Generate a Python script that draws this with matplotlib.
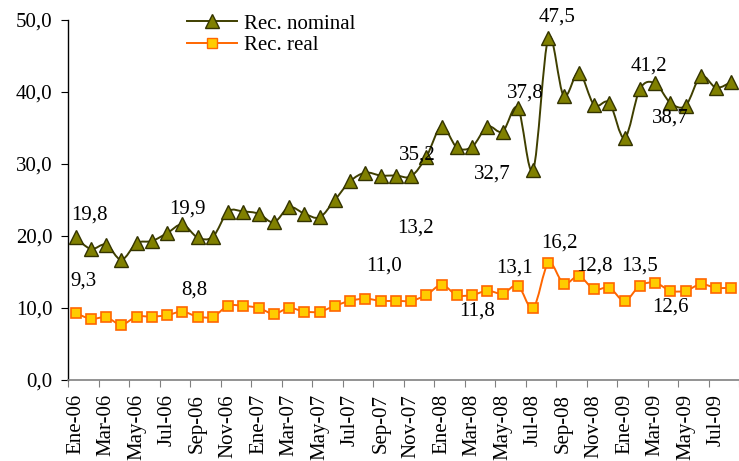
import numpy as np
import matplotlib.pyplot as plt
from matplotlib.path import Path
from matplotlib.patches import PathPatch
from matplotlib.lines import Line2D

plt.rcParams['font.family'] = ['Liberation Serif', 'DejaVu Serif']

# monthly categories, Ene-06 .. Ago-09
meses = ["Ene", "Feb", "Mar", "Abr", "May", "Jun", "Jul", "Ago", "Sep", "Oct", "Nov", "Dic"]
categorias = [f"{m}-{a:02d}" for a in (6, 7, 8, 9) for m in meses][:44]

rec_nominal = [19.8, 18.2, 18.8, 16.7, 19.0, 19.3, 20.4, 21.6, 19.8, 19.9,
               23.4, 23.4, 23.1, 21.9, 24.0, 23.1, 22.6, 25.0, 27.6, 28.8,
               28.4, 28.4, 28.3, 31.0, 35.2, 32.3, 32.4, 35.2, 34.5, 37.8,
               29.2, 47.5, 39.5, 42.7, 38.2, 38.5, 33.6, 40.4, 41.2, 38.5,
               38.1, 42.2, 40.6, 41.4]
rec_real = [9.3, 8.5, 8.7, 7.7, 8.8, 8.8, 9.0, 9.5, 8.8, 8.8,
            10.3, 10.3, 10.0, 9.2, 10.0, 9.5, 9.5, 10.3, 11.0, 11.3,
            11.0, 11.0, 11.0, 11.8, 13.2, 11.8, 11.8, 12.4, 12.0, 13.1,
            10.0, 16.2, 13.4, 14.4, 12.6, 12.8, 11.0, 13.1, 13.5, 12.4,
            12.4, 13.3, 12.8, 12.8]

# data labels as they sit in the original (text, x position, y position)
etiquetas = [("19,8", 0.9, 22.9), ("19,9", 7.3, 23.8), ("9,3", 0.5, 13.8),
             ("8,8", 7.8, 12.5), ("11,0", 20.2, 15.8), ("13,2", 22.3, 21.1),
             ("11,8", 26.3, 9.6), ("13,1", 28.75, 15.6), ("16,2", 31.7, 19.0),
             ("12,8", 34.0, 15.8), ("13,5", 37.0, 15.8), ("12,6", 39.0, 10.1),
             ("35,2", 22.4, 31.3), ("32,7", 27.3, 28.6), ("37,8", 29.5, 39.9),
             ("47,5", 31.55, 50.4), ("41,2", 37.6, 43.6), ("38,7", 39.0, 36.4)]

FS = 15


def smooth_path(x, y):
    # Excel-like smoothed line: Catmull-Rom segments as cubic Beziers
    pts = np.column_stack([x, y]).astype(float)
    n = len(pts)
    verts = [pts[0]]
    codes = [Path.MOVETO]
    for i in range(n - 1):
        p0 = pts[max(i - 1, 0)]
        p1 = pts[i]
        p2 = pts[i + 1]
        p3 = pts[min(i + 2, n - 1)]
        c1 = p1 + (p2 - p0) / 6.0
        c2 = p2 - (p3 - p1) / 6.0
        verts += [c1, c2, p2]
        codes += [Path.CURVE4] * 3
    return Path(verts, codes)


fig = plt.figure(figsize=(7.39, 4.61), dpi=100)
ax = fig.add_axes([68 / 739, 81 / 461, 671 / 739, 360 / 461])

x = np.arange(len(categorias))

nom_line = '#3f3f00'
nom_face = '#808000'
real_line = '#ff6600'
real_face = '#ffcc00'

ax.add_patch(PathPatch(smooth_path(x, rec_nominal), fill=False, edgecolor=nom_line, lw=1.4, zorder=2))
ax.add_patch(PathPatch(smooth_path(x, rec_real), fill=False, edgecolor=real_line, lw=1.4, zorder=2))
ax.plot(x, rec_nominal, linestyle='none', marker='^', markersize=9.5,
        markerfacecolor=nom_face, markeredgecolor='#333300', markeredgewidth=1.0, zorder=3)
ax.plot(x, rec_real, linestyle='none', marker='s', markersize=7,
        markerfacecolor=real_face, markeredgecolor=real_line, markeredgewidth=1.2, zorder=3)

for txt, tx, ty in etiquetas:
    ax.text(tx, ty, txt, ha='center', va='center', fontsize=FS, color='black')

ax.set_xlim(-0.5, 43.5)
ax.set_ylim(0, 50)
ax.set_yticks(np.arange(0, 51, 10))
ax.set_yticklabels([f"{v:.1f}".replace('.', ',') for v in np.arange(0, 51, 10)], fontsize=FS)

# ticks between categories, labels every two months
ax.set_xticks(np.arange(-0.5, 44, 2))
ax.set_xticklabels([])
ax.set_xticks(x[::2], minor=True)
ax.set_xticklabels(categorias[::2], minor=True, rotation=90, fontsize=FS)
ax.tick_params(axis='x', which='minor', length=0, pad=10)
ax.tick_params(axis='x', which='major', length=5, color='#808080')
ax.tick_params(axis='y', length=5, pad=6)

for s in ('top', 'right'):
    ax.spines[s].set_visible(False)
ax.spines['bottom'].set_color('#808080')
ax.spines['bottom'].set_linewidth(1.2)
ax.spines['left'].set_linewidth(1.0)

handles = [
    Line2D([], [], color=nom_line, lw=1.4, marker='^', markersize=9.5,
           markerfacecolor=nom_face, markeredgecolor='#333300'),
    Line2D([], [], color=real_line, lw=1.4, marker='s', markersize=7,
           markerfacecolor=real_face, markeredgecolor=real_line),
]
ax.legend(handles, ["Rec. nominal", "Rec. real"], loc='upper left',
          bbox_to_anchor=(0.1654, 1.04), frameon=False,
          fontsize=FS, handlelength=2.4, handletextpad=0.3, labelspacing=0.1,
          borderaxespad=0)

fig.savefig('out.png', dpi=100)
